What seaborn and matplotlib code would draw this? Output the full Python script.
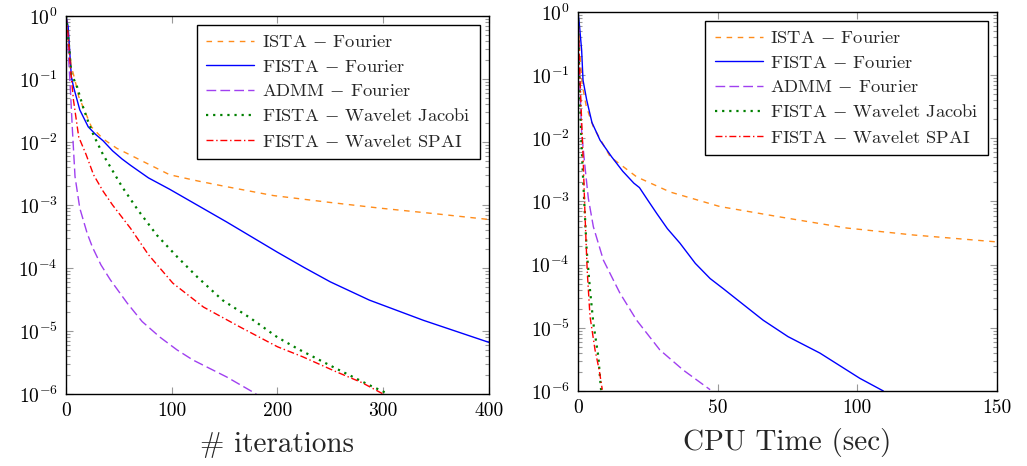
import numpy as np
import pandas as pd
import seaborn as sns
import matplotlib.pyplot as plt
from matplotlib.ticker import FixedLocator, NullFormatter, LogFormatterSciNotation

sns.set_theme(style='ticks')
plt.rcParams['font.family'] = ['cmr10', 'DejaVu Serif']
plt.rcParams['mathtext.fontset'] = 'cm'
plt.rcParams['axes.formatter.use_mathtext'] = True

# ---- left panel: residual vs iterations (y given as log10) ----
it_ista = [0, 2, 5, 8.5, 12, 24, 35, 48, 60, 73, 98, 125, 152, 196, 250, 297, 350, 400]
lg_ista = [0, -0.35, -0.8, -1.02, -1.28, -1.76, -1.95, -2.1, -2.2, -2.31, -2.52, -2.62,
           -2.71, -2.85, -2.96, -3.05, -3.14, -3.23]

it_fista = [0, 2, 5, 7, 13, 21, 28, 35, 44, 53, 61, 78, 98, 125, 152, 175, 200, 225, 250,
            287, 338, 400]
lg_fista = [0, -0.17, -0.96, -1.12, -1.49, -1.76, -1.88, -1.98, -2.14, -2.27, -2.37, -2.57,
            -2.75, -3.01, -3.27, -3.5, -3.75, -3.99, -4.22, -4.51, -4.83, -5.18]

it_admm = [0, 2, 4, 6, 8.5, 13, 20, 25, 33, 42, 58, 72, 89, 105, 120, 152, 180]
lg_admm = [0, -0.54, -1.13, -1.8, -2.55, -3.05, -3.45, -3.67, -3.95, -4.19, -4.56, -4.85,
           -5.1, -5.3, -5.46, -5.73, -6.0]

it_jac = [0, 3, 5, 10, 16, 21, 26, 35, 53, 68, 86, 105, 124, 148, 174, 200, 220, 256, 287, 305]
lg_jac = [0, -0.5, -0.92, -1.1, -1.44, -1.68, -1.89, -2.2, -2.71, -3.08, -3.48, -3.82,
          -4.14, -4.51, -4.79, -5.1, -5.29, -5.6, -5.86, -6.0]

it_spai = [0, 2, 4, 7, 12, 19, 26, 35, 44, 61, 78, 101, 130, 165, 200, 224, 256, 280, 300]
lg_spai = [0, -0.3, -0.8, -1.33, -1.92, -2.2, -2.52, -2.78, -3.0, -3.37, -3.79, -4.24, -4.62,
           -4.94, -5.25, -5.41, -5.65, -5.82, -6.0]

# ---- right panel: residual vs CPU time ----
t_ista = [0, 0.6, 1.5, 3, 5.5, 11.5, 21, 33, 50.8, 73, 96.2, 120, 150]
tl_ista = [0, -0.6, -1.15, -1.5, -1.82, -2.29, -2.61, -2.85, -3.08, -3.25, -3.42, -3.53, -3.64]

t_fista = [0, 0.5, 1.3, 1.8, 3.1, 5, 7.9, 12, 16, 20, 22, 25, 28.2, 32, 36.5, 42, 47.3, 52,
           58, 66.3, 75.2, 86.6, 100.9, 109.3]
tl_fista = [0, -0.2, -0.6, -1.08, -1.39, -1.75, -2.03, -2.29, -2.52, -2.71, -2.78, -2.98,
            -3.19, -3.43, -3.66, -3.98, -4.22, -4.38, -4.59, -4.88, -5.14, -5.4, -5.8, -6.0]

t_admm = [0, 0.7, 1.3, 2.5, 3.7, 5.5, 9.1, 15, 21, 29.3, 37.7, 47.3]
tl_admm = [0, -1.2, -1.9, -2.45, -2.95, -3.4, -3.93, -4.45, -4.88, -5.35, -5.67, -5.98]

t_jac = [0, 0.3, 0.7, 1.3, 1.9, 3.1, 4.3, 5.5, 7.3, 7.9, 8.3]
tl_jac = [0, -0.7, -1.39, -2.13, -2.71, -3.77, -4.4, -4.93, -5.46, -5.8, -6.0]

t_spai = [0, 0.5, 1.2, 1.9, 2.5, 3.3, 4.3, 6.1, 7.6, 8.7]
tl_spai = [0, -0.8, -1.6, -2.4, -3.2, -4.1, -4.82, -5.35, -5.67, -5.98]

labels = [r'ISTA $-$ Fourier', r'FISTA $-$ Fourier', r'ADMM $-$ Fourier',
          r'FISTA $-$ Wavelet Jacobi', r'FISTA $-$ Wavelet SPAI']
colors = ['#FF8C1A', '#0000FF', '#A040F0', '#008000', '#FF0000']
styles = [(0, (4, 4)), '-', (0, (7, 3, 7, 3)), (0, (1, 2.2)), (0, (5, 2, 1, 2))]

decades = [1e-6, 1e-5, 1e-4, 1e-3, 1e-2, 1e-1, 1e0]

left = [(it_ista, lg_ista), (it_fista, lg_fista), (it_admm, lg_admm),
        (it_jac, lg_jac), (it_spai, lg_spai)]
right = [(t_ista, tl_ista), (t_fista, tl_fista), (t_admm, tl_admm),
         (t_jac, tl_jac), (t_spai, tl_spai)]

fig = plt.figure(figsize=(10.27, 4.66), dpi=100)
ax1 = fig.add_axes([0.0643, 0.1545, 0.4117, 0.8112])
ax2 = fig.add_axes([0.5628, 0.161, 0.408, 0.8132])


def draw(ax, series, xlim, xticks, xlabel):
    for (x, lg), lab, c, ls in zip(series, labels, colors, styles):
        df = pd.DataFrame({'x': x, 'y': 10.0 ** np.array(lg)})
        lw = 1.6 if ls == (0, (1, 2.2)) else 1.0
        sns.lineplot(data=df, x='x', y='y', ax=ax, color=c, linestyle=ls, lw=lw,
                     label=lab, sort=False, estimator=None)
    ax.set_yscale('log')
    ax.set_ylim(1e-6, 1)
    ax.set_xlim(*xlim)
    ax.set_xticks(xticks)
    ax.set_xticklabels([str(v) for v in xticks])
    ax.yaxis.set_major_locator(FixedLocator(decades))
    ax.yaxis.set_major_formatter(LogFormatterSciNotation())
    minors = [m * d for d in decades[:-1] for m in range(2, 10)]
    ax.yaxis.set_minor_locator(FixedLocator(minors))
    ax.yaxis.set_minor_formatter(NullFormatter())
    ax.tick_params(which='both', direction='in', top=True, right=True, color='0.6',
                   labelsize=14, labelcolor='black')
    ax.tick_params(which='major', length=5, width=0.8, pad=6)
    ax.tick_params(which='minor', length=3, width=0.8)
    for s in ax.spines.values():
        s.set_color('black')
        s.set_linewidth(1.0)
    ax.set_xlabel(xlabel, fontsize=21, labelpad=8)
    ax.set_ylabel(None)
    leg = ax.legend(loc='upper right', fontsize=13.3, frameon=True, fancybox=False,
                    edgecolor='black', framealpha=1, handlelength=2.6,
                    handletextpad=0.4, labelspacing=0.45, borderaxespad=0.5,
                    borderpad=0.5)
    leg.get_frame().set_linewidth(1.0)


draw(ax1, left, (0, 400), [0, 100, 200, 300, 400], '# iterations')
draw(ax2, right, (0, 150), [0, 50, 100, 150], 'CPU Time (sec)')

fig.savefig('out.png', dpi=100)
